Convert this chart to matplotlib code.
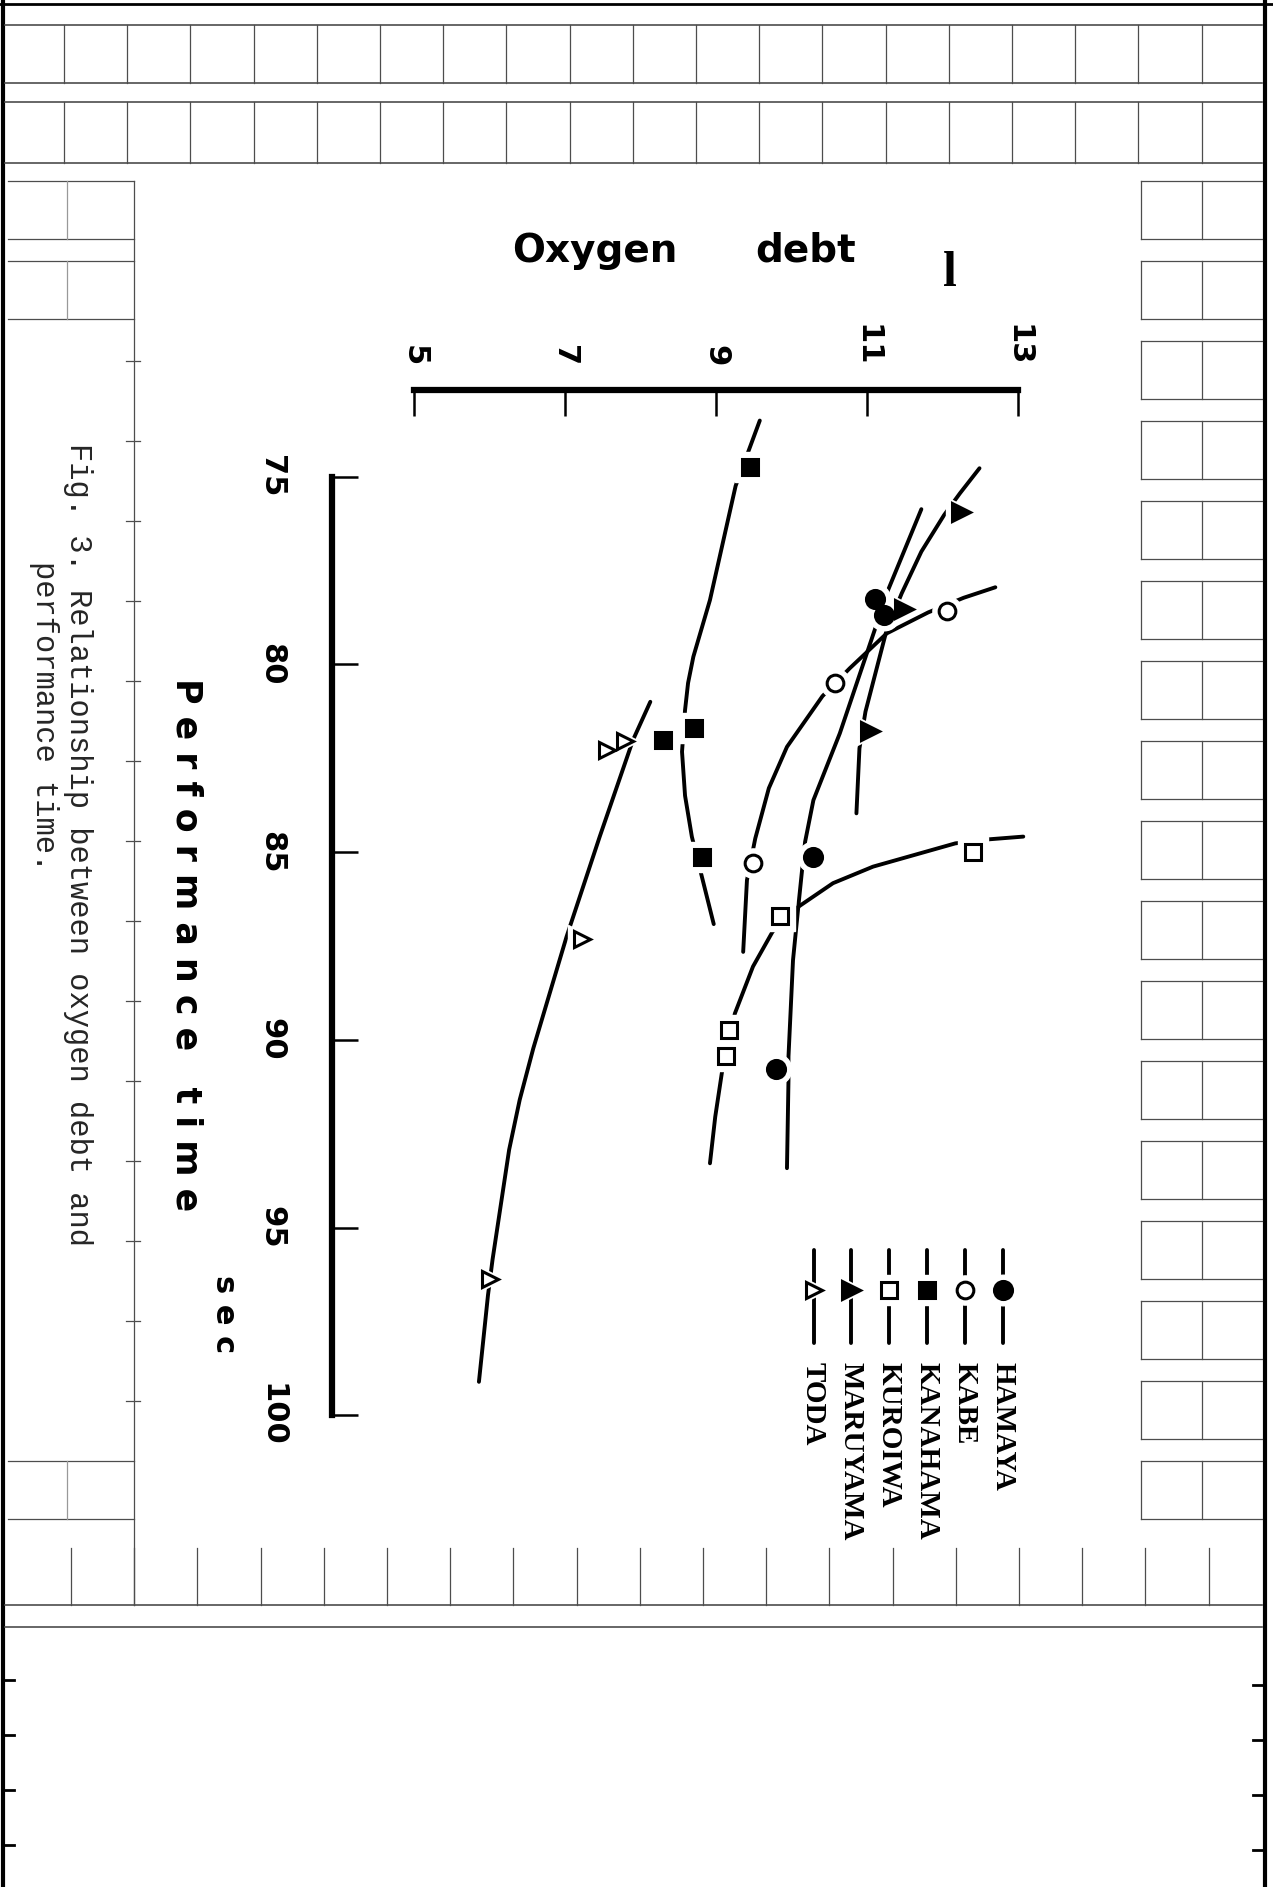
import matplotlib
matplotlib.use("Agg")
import matplotlib.pyplot as plt

# ---------------- data ----------------
# x = oxygen debt (l), y = performance time (sec)
names = ["HAMAYA", "KABE", "KANAHAMA", "KUROIWA", "MARUYAMA", "TODA"]

hamaya_o2 = [11.11, 11.23, 10.28, 9.79]
hamaya_t = [78.26, 78.69, 85.14, 90.78]
hamaya_curve_o2 = [11.72, 11.28, 11.11, 10.64, 10.29, 10.18, 10.14, 10.09, 10.02, 9.96, 9.96, 9.94]
hamaya_curve_t = [75.87, 78.02, 79.04, 81.84, 83.62, 84.73, 85.48, 86.46, 87.88, 90.45, 91.07, 93.42]

kabe_o2 = [12.06, 10.58, 9.49]
kabe_t = [78.57, 80.49, 85.30]
kabe_curve_o2 = [12.70, 12.28, 11.81, 11.26, 10.77, 10.41, 9.94, 9.70, 9.52, 9.41, 9.36]
kabe_curve_t = [77.95, 78.23, 78.62, 79.18, 80.11, 80.85, 82.20, 83.30, 84.64, 85.75, 87.66]

kanahama_o2 = [9.45, 8.71, 8.30, 8.82]
kanahama_t = [74.74, 81.69, 82.02, 85.12]
kanahama_curve_o2 = [9.58, 9.26, 8.92, 8.70, 8.63, 8.59, 8.55, 8.59, 8.68, 8.97]
kanahama_curve_t = [73.51, 75.25, 78.29, 79.80, 80.50, 81.22, 82.33, 83.50, 84.59, 86.92]

kuroiwa_o2 = [12.41, 9.85, 9.17, 9.13]
kuroiwa_t = [84.99, 86.70, 89.74, 90.43]
kuroiwa_curve_o2 = [13.07, 12.63, 12.17, 11.08, 10.55, 10.09, 9.75, 9.49, 9.25, 9.08, 8.99, 8.92]
kuroiwa_curve_t = [84.59, 84.66, 84.77, 85.39, 85.83, 86.46, 87.12, 88.05, 89.30, 90.85, 92.05, 93.29]

maruyama_o2 = [12.25, 11.49, 11.04]
maruyama_t = [75.94, 78.54, 81.78]
maruyama_curve_o2 = [12.49, 12.23, 12.02, 11.72, 11.46, 11.26, 10.98, 10.90, 10.86]
maruyama_curve_t = [74.78, 75.45, 76.03, 77.00, 78.11, 79.09, 81.26, 82.24, 83.97]

toda_o2 = [7.55, 7.79, 7.22, 6.01]
toda_t = [82.28, 82.04, 87.32, 96.38]
toda_curve_o2 = [8.13, 7.90, 7.46, 7.02, 6.58, 6.40, 6.26, 6.04, 5.98, 5.86]
toda_curve_t = [81.00, 82.02, 84.59, 87.26, 90.23, 91.60, 92.93, 95.86, 96.80, 99.11]

o2_ticks = [5, 7, 9, 11, 13]
o2_ticklabels = ["5", "7", "9", "11", "13"]
time_ticks = [75, 80, 85, 90, 95, 100]
time_ticklabels = ["75", "80", "85", "90", "95", "100"]

series = [
    (hamaya_o2, hamaya_t, hamaya_curve_o2, hamaya_curve_t, "o", "k", 13),
    (kabe_o2, kabe_t, kabe_curve_o2, kabe_curve_t, "o", "white", 12),
    (kanahama_o2, kanahama_t, kanahama_curve_o2, kanahama_curve_t, "s", "k", 12),
    (kuroiwa_o2, kuroiwa_t, kuroiwa_curve_o2, kuroiwa_curve_t, "s", "white", 12),
    (maruyama_o2, maruyama_t, maruyama_curve_o2, maruyama_curve_t, ">", "k", 13),
    (toda_o2, toda_t, toda_curve_o2, toda_curve_t, ">", "white", 11),
]

# ---------------- layout ----------------
W, H = 1273, 1887
fig = plt.figure(figsize=(W / 100, H / 100), dpi=100)
fig.patch.set_facecolor("white")

# background axes in pixel coordinates (page frame, texts, legend)
bg = fig.add_axes([0, 0, 1, 1], zorder=0)
bg.set_xlim(0, W)
bg.set_ylim(H, 0)
bg.axis("off")

# main axes spanning the page; linear mapping of data to page pixels
X5, XS = 414.0, 75.5      # pixel of O2=5, pixels per litre
Y75, YS = 476.5, 37.55    # pixel of t=75, pixels per second


def dx(px):
    return 5 + (px - X5) / XS


def dy(py):
    return 75 + (py - Y75) / YS


ax = fig.add_axes([0, 0, 1, 1], zorder=1)
ax.set_facecolor("none")
ax.set_xlim(dx(0), dx(W))
ax.set_ylim(dy(H), dy(0))

for s in ["right", "bottom"]:
    ax.spines[s].set_visible(False)
ax.spines["left"].set_position(("data", dx(332)))
ax.spines["left"].set_bounds(75, 100)
ax.spines["top"].set_position(("data", dy(390)))
ax.spines["top"].set_bounds(5, 13)
for s in ["left", "top"]:
    ax.spines[s].set_linewidth(4.5)
    ax.spines[s].set_capstyle("projecting")

ax.xaxis.tick_top()
ax.set_xticks(o2_ticks)
ax.set_xticklabels(o2_ticklabels, rotation=-90, fontsize=22, fontweight="bold",
                   family="DejaVu Sans")
ax.set_yticks(time_ticks)
ax.set_yticklabels(time_ticklabels, rotation=-90, fontsize=22, fontweight="bold",
                   family="DejaVu Sans", va="center")
ax.tick_params(axis="both", direction="in", length=19, width=1.8)
ax.tick_params(axis="x", pad=17)
ax.tick_params(axis="y", pad=33)

# curves
for o2, t, co2, ct, m, fc, ms in series:
    ax.plot(co2, ct, color="k", lw=2.8, solid_capstyle="round",
            solid_joinstyle="round", zorder=2)
# white halos (gaps in curves around the markers)
for o2, t, co2, ct, m, fc, ms in series:
    ax.plot(o2, t, ls="none", marker=m, ms=ms + 9, mfc="white", mec="white", zorder=3)
for o2, t, co2, ct, m, fc, ms in series:
    ax.plot(o2, t, ls="none", marker=m, ms=ms, mfc=fc, mec="k", mew=2.2, zorder=4)

# ---------------- texts ----------------
bg.text(512, 262, "Oxygen", fontsize=28, fontweight="bold", family="DejaVu Sans",
        ha="left", va="baseline")
bg.text(755, 262, "debt", fontsize=28, fontweight="bold", family="DejaVu Sans",
        ha="left", va="baseline")
bg.text(950, 286, "l", fontsize=36, fontweight="bold", family="Liberation Serif",
        ha="center", va="baseline")
bg.text(186, 945, "P e r f o r m a n c e   t i m e", rotation=-90, fontsize=25,
        fontweight="bold", family="DejaVu Sans", ha="center", va="center")
bg.text(225, 1314, "s e c", rotation=-90, fontsize=22, fontweight="bold",
        family="DejaVu Sans", ha="center", va="center")
bg.text(78, 443, "Fig. 3. Relationship between oxygen debt and", rotation=-90,
        rotation_mode="anchor", ha="left", va="center", family="Liberation Mono",
        fontsize=22, color="0.15")
bg.text(44, 561, "performance time.", rotation=-90, rotation_mode="anchor",
        ha="left", va="center", family="Liberation Mono", fontsize=22, color="0.15")

# ---------------- legend (drawn by hand, rotated like the page) ----------------
for i, (nm, srs) in enumerate(zip(names, series)):
    m, fc, ms = srs[4], srs[5], srs[6]
    lx = 1003 - 37.9 * i
    bg.plot([lx, lx], [1250, 1343], color="k", lw=2.8, solid_capstyle="round")
    bg.plot([lx], [1290], ls="none", marker=m, ms=ms + 9, mfc="white", mec="white")
    bg.plot([lx], [1290], ls="none", marker=m, ms=ms, mfc=fc, mec="k", mew=2.2)
    bg.text(lx, 1362, nm, rotation=-90, rotation_mode="anchor", ha="left",
            va="center", family="Liberation Serif", fontweight="bold", fontsize=21)

# ---------------- page frame (ruled form of the scan) ----------------
gc, glw = "0.3", 0.9
bg.plot([3, 3], [0, H], color="k", lw=3)
bg.plot([1265, 1265], [0, H], color="k", lw=3)
bg.plot([0, W], [4, 4], color="k", lw=2)
for yy in [25, 83, 102, 163, 1605, 1627]:
    bg.plot([5, 1262], [yy, yy], color=gc, lw=1.2)
for k in range(19):
    xx = 64 + 63.2 * k
    bg.plot([xx, xx], [25, 83], color=gc, lw=glw)
    bg.plot([xx, xx], [102, 163], color=gc, lw=glw)
for k in range(17):
    top = 181 + 80 * k
    bg.plot([1141, 1262], [top, top], color=gc, lw=glw)
    bg.plot([1141, 1262], [top + 58, top + 58], color=gc, lw=glw)
    bg.plot([1141, 1141], [top, top + 58], color=gc, lw=glw)
    bg.plot([1202, 1202], [top, top + 58], color=gc, lw=glw)
    if k in (0, 1, 16):
        bg.plot([8, 134], [top, top], color=gc, lw=glw)
        bg.plot([8, 134], [top + 58, top + 58], color=gc, lw=glw)
        bg.plot([67, 67], [top, top + 58], color="0.6", lw=glw)
    else:
        bg.plot([126, 140], [top + 20, top + 20], color=gc, lw=glw)
bg.plot([134, 134], [181, 1605], color=gc, lw=glw)
for k in range(19):
    xx = 71 + 63.2 * k
    bg.plot([xx, xx], [1548, 1605], color=gc, lw=glw)
for yy in [1680, 1735, 1790, 1845]:
    bg.plot([5, 14], [yy, yy], color="k", lw=2)
    bg.plot([1253, 1263], [yy + 5, yy + 5], color="k", lw=2)

fig.savefig("out.png", dpi=100, facecolor="white")
